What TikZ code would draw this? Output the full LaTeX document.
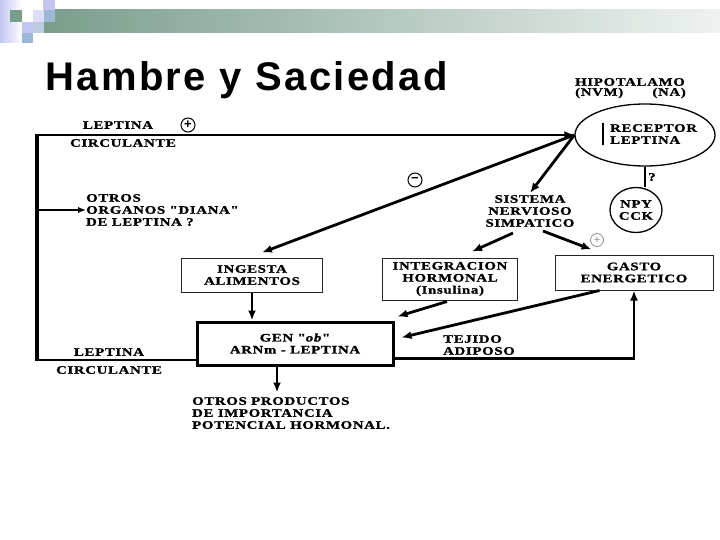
\documentclass[tikz,border=0pt]{standalone}
\usepackage{fontspec}
\setmainfont{Liberation Serif}
\newfontfamily\titlefont[LetterSpace=6]{Liberation Sans}
\newfontfamily\diagfont[FakeStretch=1.3,LetterSpace=6,FakeBold=1.2]{Liberation Serif}
\newfontfamily\symfont{Liberation Sans}
\usetikzlibrary{arrows.meta,shapes.geometric,calc}
\definecolor{lav}{HTML}{C4C6F2}
\definecolor{lavlight}{HTML}{DCDDF6}
\definecolor{bluegray}{HTML}{9CB8D6}
\definecolor{bargreen}{HTML}{7A9E8C}
\definecolor{barend}{HTML}{EEF2F0}
\begin{document}
\begin{tikzpicture}[x=1pt,y=-1pt,
  txt/.style={font=\diagfont\bfseries\fontsize{11.4}{12}\selectfont, align=center, inner sep=0pt},
  boxed/.style={txt, draw=black!85, line width=1pt},
  arr/.style={-{Latex[length=10pt,width=8pt]}, line width=2.8pt},
  sign/.style={circle, draw, line width=1pt, minimum size=14pt, inner sep=0pt, font=\symfont\bfseries\fontsize{13}{13}\selectfont}
]
\useasboundingbox (0,0) rectangle (720,540);
\fill[white] (0,0) rectangle (720,540);
% banner
\shade[left color=lav, right color=white] (0,0) rectangle (22,43);
\fill[bargreen] (10,10) rectangle (22,22);
\shade[left color=bargreen, right color=barend] (44,10) rectangle (720,33);
\fill[lav] (43,0) rectangle (55,10);
\fill[lavlight] (33,10) rectangle (44,22);
\fill[bluegray] (44,10) rectangle (55,22);
\fill[lav] (22,22) rectangle (33,33);
\fill[bluegray!70] (33,22) rectangle (44,33);
\fill[bluegray] (22,33) rectangle (33,43);
% title
\node[anchor=base west, inner sep=0pt, font=\titlefont\bfseries\fontsize{40}{45}\selectfont] (title) at (45,91) {Hambre y Saciedad};

% hypothalamus
\node[txt] (hipotxt) at (630,82) {HIPOTALAMO};
\node[txt, anchor=west] (nvm) at (575,93) {(NVM)};
\node[txt, anchor=east] (na) at (686,93) {(NA)};
\node[ellipse, draw, line width=1.3pt, minimum width=140pt, minimum height=62pt, inner sep=0pt] (hipo) at (645,135) {};
\node[txt, align=left, anchor=west] (receptor) at (610,134) {RECEPTOR\\LEPTINA};
\draw[line width=2.4pt] ($(hipo.center)+(-42,-12)$) -- ++(0,22);
\node[ellipse, draw, line width=1.3pt, minimum width=52pt, minimum height=45pt, inner sep=0pt] (npy) at (636,210) {};
\node[txt] (npytxt) at (npy.center) {NPY\\CCK};
\draw[line width=2.4pt] (hipo.south) -- (hipo.south |- npy.north);
\node[txt] (q) at (652,177) {?};

% left loop
\coordinate (tl) at (37,135);
\coordinate (bl) at (37,360);
\draw[line width=3.6pt] (tl) -- (bl);
\draw[line width=2.8pt] ([xshift=-1.8pt]bl) -- (bl -| 197,0);
\draw[arr] ([xshift=-1.8pt]tl) -- (hipo.west);
\node[txt] (lept1) at (118,125) {LEPTINA};
\node[sign] (plus1) at (188,125) {+};
\node[txt] (circ1) at (123,143) {CIRCULANTE};

% other target organs
\node[txt, align=left, anchor=west] (organos) at (86,210) {OTROS\\ORGANOS "DIANA"\\DE LEPTINA ?};
\coordinate (oa) at (38,210);
\draw[line width=2pt, -{Latex[length=8pt,width=6.5pt]}] (oa) -- (organos.west);

% sympathetic system
\node[txt] (sns) at (530,211) {SISTEMA\\NERVIOSO\\SIMPATICO};

% boxes
\node[boxed, minimum width=141pt, minimum height=34pt] (ingesta) at (252,275) {INGESTA\\ALIMENTOS};
\node[boxed, minimum width=135pt, minimum height=42pt] (integ) at (450,279) {INTEGRACION\\HORMONAL\\(Insulina)};
\node[boxed, minimum width=158pt, minimum height=35pt] (gasto) at (634,272.5) {GASTO\\ENERGETICO};
\node[txt, draw, line width=3pt, minimum width=196pt, minimum height=43pt] (gen) at (295,343.5) {GEN "\textit{ob}"\\ARNm - LEPTINA};

% arrows from hypothalamus
\draw[arr] (hipo.west) -- ($(ingesta.north)+(10,-5)$);
\node[sign] (minus1) at (415,180) {{\symfont −}};
\draw[arr] (hipo.west) -- ($(sns.north)+(0,-2)$);
\draw[arr] ($(sns.south)+(-17,6)$) -- ($(integ.north)+(22,-6)$);
\draw[arr] ($(sns.south)+(13,4)$) -- ($(gasto.north west)+(37,-5)$);
\node[sign, draw=black!45, text=black!45, minimum size=13pt, line width=0.8pt, font=\symfont\fontsize{11}{11}\selectfont] (plus2) at (597,240) {+};

% into gene box
\draw[arr] (ingesta.south) -- (ingesta.south |- gen.north);
\draw[arr] ($(integ.south)+(-3,1)$) -- ($(gen.north east)+(3,-4)$);
\draw[arr] ($(gasto.south west)+(45,0)$) -- ($(gen.east)+(7,-6)$);
\draw[arr] ($(gen.east)+(0,15)$) -| (gasto.south);
\node[txt, align=left, anchor=west] (tejido) at (443,345) {TEJIDO\\ADIPOSO};

% bottom
\node[txt] (lept2) at (109,352) {LEPTINA};
\node[txt] (circ2) at (109,370) {CIRCULANTE};
\node[txt, align=left, anchor=north west] (otros) at (192,397) {OTROS PRODUCTOS\\DE IMPORTANCIA\\POTENCIAL HORMONAL.};
\draw[arr] ($(gen.south)+(-18,0)$) -- ($(gen.south)+(-18,26)$);
\end{tikzpicture}
\end{document}
